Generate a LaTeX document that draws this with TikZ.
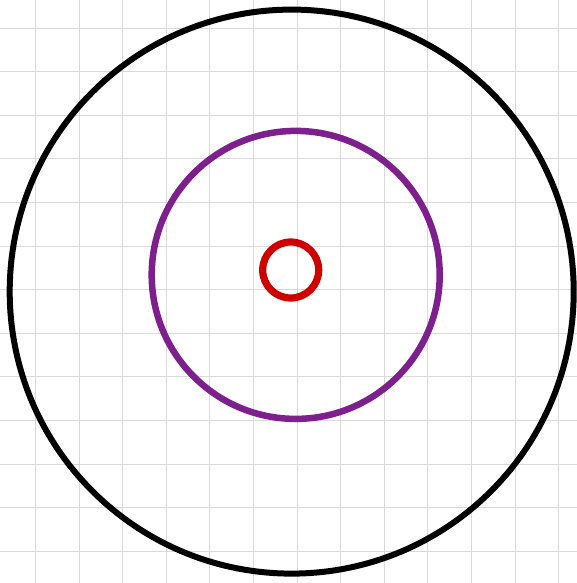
\documentclass[tikz,border=0pt]{standalone}
\usepackage{tikz}
\definecolor{gridgray}{RGB}{218,218,218}
\definecolor{ringpurple}{RGB}{125,32,142}
\definecolor{ringred}{RGB}{206,0,0}
\tikzset{
  gridline/.style={draw=gridgray, line width=0.9pt},
  ring/.style={draw, fill=none, circle, inner sep=0pt},
}
\begin{document}
\begin{tikzpicture}[x=1pt,y=-1pt]
  \useasboundingbox (0,0) rectangle (577,583);
  \fill[white] (0,0) rectangle (577,583);
  % grid
  \foreach \i in {0,...,12}{
    \draw[gridline] ({35.5+43.6*\i},0) -- ({35.5+43.6*\i},583);
    \draw[gridline] (0,{28+43.6*\i}) -- (577,{28+43.6*\i});
  }
  % outer black circle
  \node[ring, draw=black, line width=6pt, minimum size=564pt] (outer) at (291.7,291.6) {};
  % purple circle
  \node[ring, draw=ringpurple, line width=6.5pt, minimum size=288pt] (mid) at (295.7,274.9) {};
  % red circle
  \node[ring, draw=ringred, line width=7.2pt, minimum size=56pt] (inner) at (290.7,270) {};
\end{tikzpicture}
\end{document}
